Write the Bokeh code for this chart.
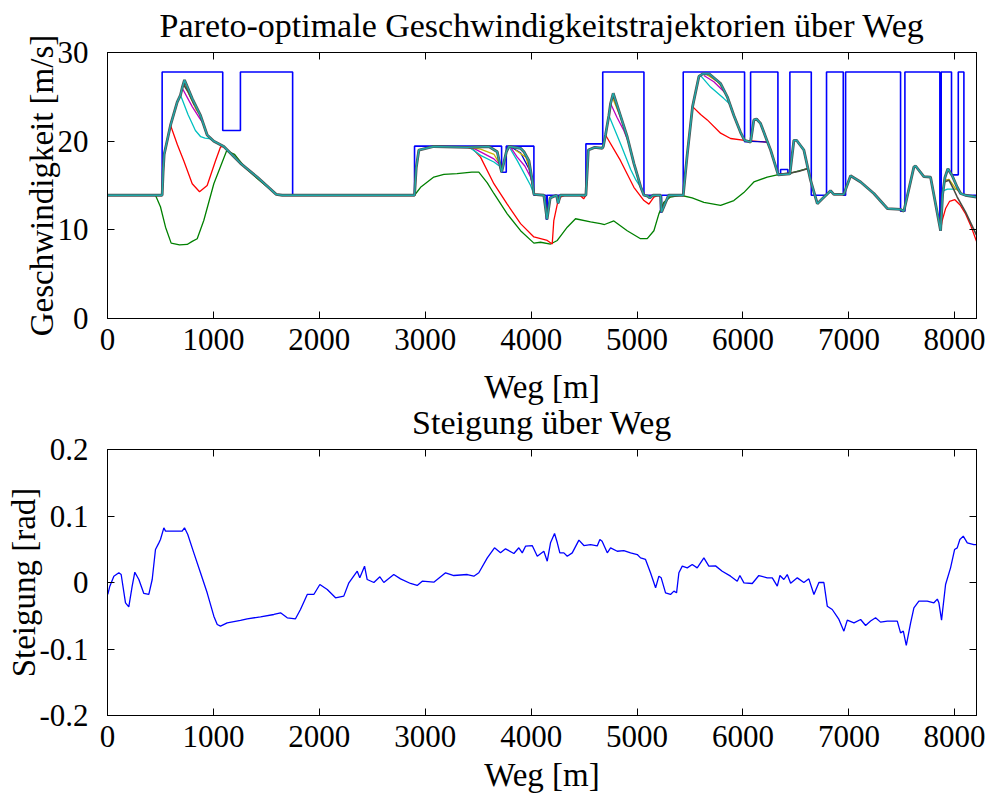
import numpy as np
from bokeh.plotting import figure
from bokeh.layouts import column
from bokeh.models import Range1d, LinearAxis, FixedTicker, CustomJSTickFormatter
from bokeh.embed import file_html
from bokeh.resources import INLINE

# ---------------- data ----------------
x_ticks = [0, 1000, 2000, 3000, 4000, 5000, 6000, 7000, 8000]
v_ticks = [0, 10, 20, 30]
s_ticks = [-0.2, -0.1, 0.0, 0.1, 0.2]
s_tick_labels = {-0.2: "-0.2", -0.1: "-0.1", 0.0: "0", 0.1: "0.1", 0.2: "0.2"}

# speed limit (step, value holds from x[i] to x[i+1])
limit_x = [0, 516, 1088, 1255, 1748, 2899, 3721, 3765, 4026, 4143, 4152, 4250, 4256, 4517, 4676,
           5065, 5222, 5231, 5436, 6015, 6072, 6330, 6355, 6424, 6443, 6645, 6789, 6947, 6969,
           7488, 7529, 7859, 7872, 7969, 8033, 8086, 8205]
limit_v = [13.9, 27.8, 21.2, 27.8, 13.9, 19.44, 16.5, 19.44, 13.9, 11.2, 13.9, 13.0, 13.9, 19.7, 27.8,
           13.9, 12.0, 13.9, 27.8, 19.95, 27.8, 16.3, 16.8, 16.3, 27.8, 13.9, 27.8, 13.9, 27.8,
           12.1, 27.8, 10.0, 27.8, 16.2, 27.8, 13.9, 13.9]

# fastest trajectory (upper envelope)
env_x = [0, 516, 525, 535, 595, 658, 689, 705, 727, 800,
         878, 941, 1004, 1098, 1256, 1413, 1593, 1650, 2899, 2915,
         2940, 3081, 3397, 3600, 3680, 3721, 3766, 3790, 3900, 3932,
         3979, 4010, 4026, 4120, 4150, 4180, 4240, 4255, 4275, 4517,
         4540, 4600, 4671, 4681, 4702, 4734, 4750, 4775, 4840, 4907,
         4970, 5002, 5033, 5065, 5100, 5120, 5150, 5222, 5231, 5298,
         5436, 5474, 5524, 5584, 5620, 5680, 5789, 5852, 5914, 5977,
         6015, 6072, 6103, 6128, 6166, 6229, 6261, 6333, 6443, 6481,
         6506, 6575, 6638, 6702, 6749, 6827, 6858, 6952, 7016, 7111,
         7236, 7363, 7488, 7519, 7614, 7630, 7708, 7771, 7866, 7885,
         7907, 7935, 7976, 8023, 8055, 8100, 8205]
env_v = [13.9, 13.9, 16.5, 18.5, 21.8, 24.4, 25.2, 26.0, 26.9, 24.8,
         22.9, 20.7, 20.0, 19.4, 17.5, 15.95, 14.0, 13.9, 13.9, 17.0,
         19.0, 19.4, 19.3, 19.4, 18.8, 16.5, 18.8, 19.4, 19.2, 18.8,
         17.8, 15.6, 14.0, 13.9, 11.2, 13.6, 13.9, 13.0, 13.9, 13.9,
         19.0, 19.3, 19.2, 19.4, 20.7, 22.9, 24.25, 25.4, 23.0, 20.5,
         17.5, 16.2, 14.9, 13.9, 13.8, 13.6, 13.9, 13.9, 12.0, 13.9,
         13.9, 18.5, 23.9, 27.3, 27.6, 27.6, 26.5, 25.0, 22.9, 21.0,
         20.1, 19.9, 22.4, 22.5, 22.0, 20.0, 19.0, 16.2, 16.3, 20.1,
         20.1, 19.0, 15.6, 12.95, 13.5, 14.4, 14.0, 14.0, 16.1, 15.4,
         14.1, 12.4, 12.3, 12.1, 17.1, 17.2, 16.0, 15.95, 9.9, 14.0,
         15.9, 16.9, 16.1, 14.8, 14.1, 13.9, 13.7]

# most economical trajectory (green)
green_x = [0, 453, 500, 548, 601, 680, 752, 800, 847, 909, 1004, 1124, 1200, 1300, 1413, 1593, 1650,
           2899, 2956, 3081, 3176, 3300, 3440, 3506, 3586, 3648, 3774, 3900, 4026, 4089, 4183, 4247,
           4341, 4419, 4561, 4655, 4693, 4781, 4907, 5033, 5096, 5159, 5206, 5253, 5316, 5411, 5520,
           5631, 5789, 5914, 6008, 6103, 6229, 6324, 6450, 6607, 6622]
green_v = [13.9, 13.9, 12.6, 10.3, 8.5, 8.3, 8.35, 8.7, 9.0, 11.05, 15.2, 18.9, 18.5, 17.0, 15.8, 14.0, 13.9,
           13.9, 14.8, 15.95, 16.25, 16.35, 16.5, 16.5, 15.3, 14.1, 11.8, 9.9, 8.5, 8.6, 8.4, 8.8,
           10.3, 11.25, 10.9, 10.7, 10.6, 11.0, 9.9, 9.0, 9.0, 9.9, 11.8, 13.1, 13.7, 13.9, 13.6,
           13.1, 12.75, 13.3, 14.2, 15.4, 15.95, 16.2, 16.4, 16.9, 16.6]

# red trajectory (pieces that leave the envelope, None = gap)
red_x = [516, 525, 535, 595, 660, 720, 800, 869, 941, 1020, 1067, 1098, None,
         3400, 3450, 3522, 3648, 3774, 3900, 4026, 4152, 4199, 4214, 4247, 4278, 4320, 4460, 4496, 4517, 4540, None,
         4702, 4844, 4970, 5065, 5112, 5159, 5200, None,
         5524, 5600, 5663, 5789, 5883, 6015, 6229, None,
         7866, 7880, 7913, 7950, 8001, 8050, 8102, 8150, 8205]
red_v = [13.9, 16.5, 18.5, 21.8, 19.6, 17.8, 15.2, 14.3, 15.0, 17.8, 19.35, 19.4, None,
         19.3, 19.1, 18.2, 15.2, 12.9, 10.7, 9.2, 8.8, 8.4, 11.05, 12.9, 13.7, 13.9, 13.9, 13.5, 13.9, 19.0, None,
         20.7, 17.8, 14.8, 13.3, 12.9, 13.7, 13.9, None,
         23.9, 23.0, 22.4, 20.9, 20.3, 20.1, 19.9, None,
         9.9, 11.0, 12.4, 13.2, 13.4, 12.8, 11.8, 10.5, 8.7]

# blue trajectory pieces
btraj_x = [3800, 3900, 3979, 4015, None, 6015, 6229]
btraj_v = [19.4, 18.7, 16.9, 15.0, None, 20.0, 19.9]

# cyan trajectory pieces
cyan_x = [689, 760, 830, 880, 920, 960, 1004, None,
          3420, 3522, 3648, 3700, 3721, None,
          3790, 3869, 3995, 4026, None,
          4734, 4844, 4940, 4990, 5040, None,
          5600, 5694, 5820, 5875, None,
          7890, 7930, 7990, 8030]
cyan_v = [25.2, 23.0, 21.2, 20.5, 20.35, 20.3, 20.0, None,
          19.3, 18.4, 17.65, 17.2, 16.5, None,
          19.4, 17.8, 15.0, 14.0, None,
          22.9, 19.7, 16.8, 15.6, 14.7, None,
          27.4, 26.1, 24.8, 24.2, None,
          14.4, 14.6, 14.6, 14.6]

# magenta trajectory pieces
mag_x = [705, 750, 800, 872, 900, None,
         3440, 3522, 3648, 3700, 3721, None,
         3800, 3869, 3940, 3995, 4015, None,
         4750, 4810, 4875, 4925, None,
         5631, 5725, 5836]
mag_v = [26.0, 25.0, 23.9, 22.55, 22.1, None,
         19.3, 18.8, 18.0, 17.4, 16.5, None,
         19.4, 18.2, 17.2, 15.95, 15.0, None,
         24.25, 22.7, 21.2, 19.7, None,
         27.4, 26.7, 25.4]

# olive trajectory pieces
olive_x = [720, 780, 840, 860, None,
           3400, 3522, 3650, 3710, None,
           3850, 3950, 4000, None,
           4765, 4820, 4860, None,
           5660, 5760, 5810, None,
           7903, 7945, 7975, 8010, 8045]
olive_v = [26.5, 25.0, 23.5, 23.2, None,
           19.35, 19.1, 18.5, 17.3, None,
           19.0, 18.2, 16.2, None,
           25.0, 23.4, 22.3, None,
           27.5, 26.7, 26.0, None,
           15.6, 15.7, 15.2, 14.6, 14.3]

# dark grey trajectory pieces
grey_x = [716, 760, 820, None,
          6333, 6355, 6450, 6530, 6607, 6622, None,
          7900, 7945, 7980, 8023, 8102, 8205]
grey_v = [26.4, 25.6, 24.1, None,
          16.2, 16.3, 16.4, 16.6, 16.9, 16.6, None,
          15.4, 15.6, 14.8, 13.7, 12.0, 9.4]

# slope over distance
slope_x = [3, 22, 60, 107, 129, 170, 201, 233, 258, 296,
           343, 390, 422, 453, 485, 500, 532, 548, 626, 705,
           727, 758, 815, 878, 941, 1004, 1036, 1067, 1130, 1256,
           1319, 1445, 1571, 1634, 1697, 1775, 1822, 1886, 1948, 2005,
           2075, 2153, 2231, 2279, 2358, 2382, 2427, 2452, 2515, 2572,
           2609, 2703, 2767, 2861, 2924, 2972, 3081, 3192, 3270, 3397,
           3459, 3506, 3586, 3654, 3711, 3758, 3837, 3884, 3916, 3947,
           4010, 4058, 4120, 4152, 4183, 4221, 4247, 4271, 4309, 4341,
           4388, 4451, 4498, 4561, 4624, 4649, 4670, 4719, 4750, 4813,
           4875, 4939, 5002, 5033, 5080, 5127, 5175, 5206, 5228, 5269,
           5316, 5348, 5373, 5395, 5427, 5474, 5521, 5568, 5631, 5678,
           5741, 5804, 5883, 5946, 5971, 6009, 6088, 6150, 6229, 6277,
           6324, 6349, 6386, 6418, 6450, 6513, 6575, 6622, 6670, 6717,
           6764, 6796, 6843, 6906, 6953, 6985, 7048, 7111, 7158, 7205,
           7252, 7299, 7363, 7457, 7488, 7514, 7542, 7583, 7614, 7661,
           7740, 7803, 7835, 7850, 7875, 7913, 7960, 7998, 8023, 8048,
           8080, 8118, 8180, 8205]
slope_v = [-0.018, -0.0055, 0.0095, 0.0146, 0.012, -0.0306, -0.0366, -0.0055, 0.0155, 0.0045,
           -0.0165, -0.018, 0.0045, 0.0496, 0.0596, 0.0647, 0.0822, 0.0772, 0.0772, 0.0772,
           0.0822, 0.0722, 0.0446, 0.0146, -0.0155, -0.0506, -0.0632, -0.0657, -0.0606, -0.0571,
           -0.0546, -0.0516, -0.0481, -0.0456, -0.0531, -0.0546, -0.0406, -0.018, -0.018, -0.003,
           -0.0105, -0.023, -0.0205, -0.0005, 0.017, 0.007, 0.0246, 0.0045, 0.0, 0.0085,
           0.0, 0.012, 0.0055, -0.0015, -0.0045, 0.002, 0.0005, 0.0146, 0.0105, 0.012,
           0.0095, 0.0146, 0.037, 0.0522, 0.0446, 0.0506, 0.0436, 0.0522, 0.0446, 0.0546,
           0.0556, 0.0396, 0.047, 0.032, 0.0597, 0.0737, 0.0597, 0.0446, 0.0446, 0.0396,
           0.0446, 0.0637, 0.0556, 0.057, 0.055, 0.0647, 0.062, 0.0446, 0.052, 0.047,
           0.048, 0.0446, 0.042, 0.037, 0.0346, 0.0146, -0.008, 0.0095, 0.007, -0.0155,
           -0.018, -0.013, -0.0155, 0.0146, 0.0246, 0.022, 0.027, 0.022, 0.037, 0.0246,
           0.025, 0.017, 0.0095, 0.002, 0.0105, -0.0005, -0.0015, 0.0105, 0.007, 0.007,
           -0.0055, 0.0105, 0.0045, 0.012, -0.001, 0.007, 0.0, 0.0055, -0.018, 0.0,
           0.0, -0.0356, -0.0406, -0.0556, -0.0732, -0.0566, -0.0606, -0.0556, -0.0647, -0.058,
           -0.0531, -0.0596, -0.058, -0.058, -0.0757, -0.0732, -0.0947, -0.0606, -0.038, -0.028,
           -0.028, -0.0305, -0.025, -0.0305, -0.0566, -0.003, 0.022, 0.0496, 0.052, 0.0647,
           0.0697, 0.0597, 0.057, 0.057]

# ---------------- styling ----------------
FONT = "Liberation Serif"
FS_TICK = "31px"
FS_LABEL = "33px"
FS_TITLE = "34px"
FRAME_W, FRAME_H = 869, 266


def arr(lst):
    return np.array([np.nan if v is None else v for v in lst], dtype=float)


def style_axis(ax, labels=True):
    ax.axis_line_color = "black"
    ax.axis_line_width = 1
    ax.major_tick_in = 7
    ax.major_tick_out = 0
    ax.minor_tick_in = 0
    ax.minor_tick_out = 0
    ax.major_tick_line_color = "black"
    ax.major_label_text_font = FONT
    ax.major_label_text_color = "black"
    ax.major_label_text_font_size = FS_TICK
    ax.axis_label_text_font = FONT
    ax.axis_label_text_font_size = FS_LABEL
    ax.axis_label_text_font_style = "normal"
    ax.axis_label_text_color = "black"
    if not labels:
        ax.formatter = CustomJSTickFormatter(code="return '';")
        ax.major_label_standoff = 0


def make_fig(title, ylabel, yr, yticks, top, title_standoff, xlab_standoff, ylab_standoff,
             overrides=None):
    p = figure(frame_width=FRAME_W, frame_height=FRAME_H,
               x_range=Range1d(0, 8205), y_range=Range1d(*yr),
               output_backend="svg", toolbar_location=None,
               min_border_left=107, min_border_right=9,
               min_border_top=top, min_border_bottom=10)
    p.title.text = title
    p.title.align = "center"
    p.title.text_font = FONT
    p.title.text_font_size = FS_TITLE
    p.title.text_font_style = "normal"
    p.title.text_color = "black"
    p.title.standoff = title_standoff
    p.grid.visible = False
    p.outline_line_color = "black"
    p.outline_line_width = 1
    p.background_fill_color = "white"
    p.border_fill_alpha = 0

    p.xaxis.ticker = FixedTicker(ticks=x_ticks)
    p.yaxis.ticker = FixedTicker(ticks=yticks)
    style_axis(p.xaxis[0])
    style_axis(p.yaxis[0])
    p.xaxis.axis_label = "Weg [m]"
    p.yaxis.axis_label = ylabel
    p.xaxis.major_label_standoff = 10
    p.xaxis.axis_label_standoff = xlab_standoff
    p.yaxis.major_label_standoff = 19
    p.yaxis.axis_label_standoff = ylab_standoff
    if overrides:
        p.yaxis.major_label_overrides = overrides

    top_ax = LinearAxis(ticker=FixedTicker(ticks=x_ticks))
    style_axis(top_ax, labels=False)
    p.add_layout(top_ax, "above")
    right_ax = LinearAxis(ticker=FixedTicker(ticks=yticks))
    style_axis(right_ax, labels=False)
    p.add_layout(right_ax, "right")
    return p


# ---------------- top chart ----------------
p1 = make_fig("Pareto-optimale Geschwindigkeitstrajektorien über Weg",
              "Geschwindigkeit [m/s]", (0, 30), v_ticks, 59, 18, 16, -5)
p1.margin = (-7, 0, 0, 0)

p1.step(limit_x, limit_v, mode="after", line_color="#0000ff", line_width=1.6)
p1.line(arr(green_x), arr(green_v), line_color="#008000", line_width=1.3)
p1.line(arr(red_x), arr(red_v), line_color="#ff0000", line_width=1.3)
p1.line(arr(btraj_x), arr(btraj_v), line_color="#0000cc", line_width=1.3)
p1.line(arr(cyan_x), arr(cyan_v), line_color="#00c0c0", line_width=1.3)
p1.line(arr(mag_x), arr(mag_v), line_color="#bf00bf", line_width=1.3)
p1.line(arr(olive_x), arr(olive_v), line_color="#c8b400", line_width=1.3)
p1.line(arr(grey_x), arr(grey_v), line_color="#4a4a40", line_width=1.6)
p1.line(env_x, env_v, line_color="#505050", line_width=2.8)
p1.line(env_x, env_v, line_color="#1fa8a8", line_width=1.4)

# ---------------- bottom chart ----------------
p2 = make_fig("Steigung über Weg", "Steigung [rad]", (-0.2, 0.2), s_ticks, 60, 18, 7, -6,
              overrides=s_tick_labels)
p2.line(slope_x, slope_v, line_color="#0000ff", line_width=1.3)
# pull the lower chart up so that its title sits where the reference has it
p2.margin = (-18, 0, 0, 0)

layout = column(p1, p2, spacing=0)
layout.styles = {"background-color": "white"}
open("out.html", "w").write(file_html(layout, INLINE))
